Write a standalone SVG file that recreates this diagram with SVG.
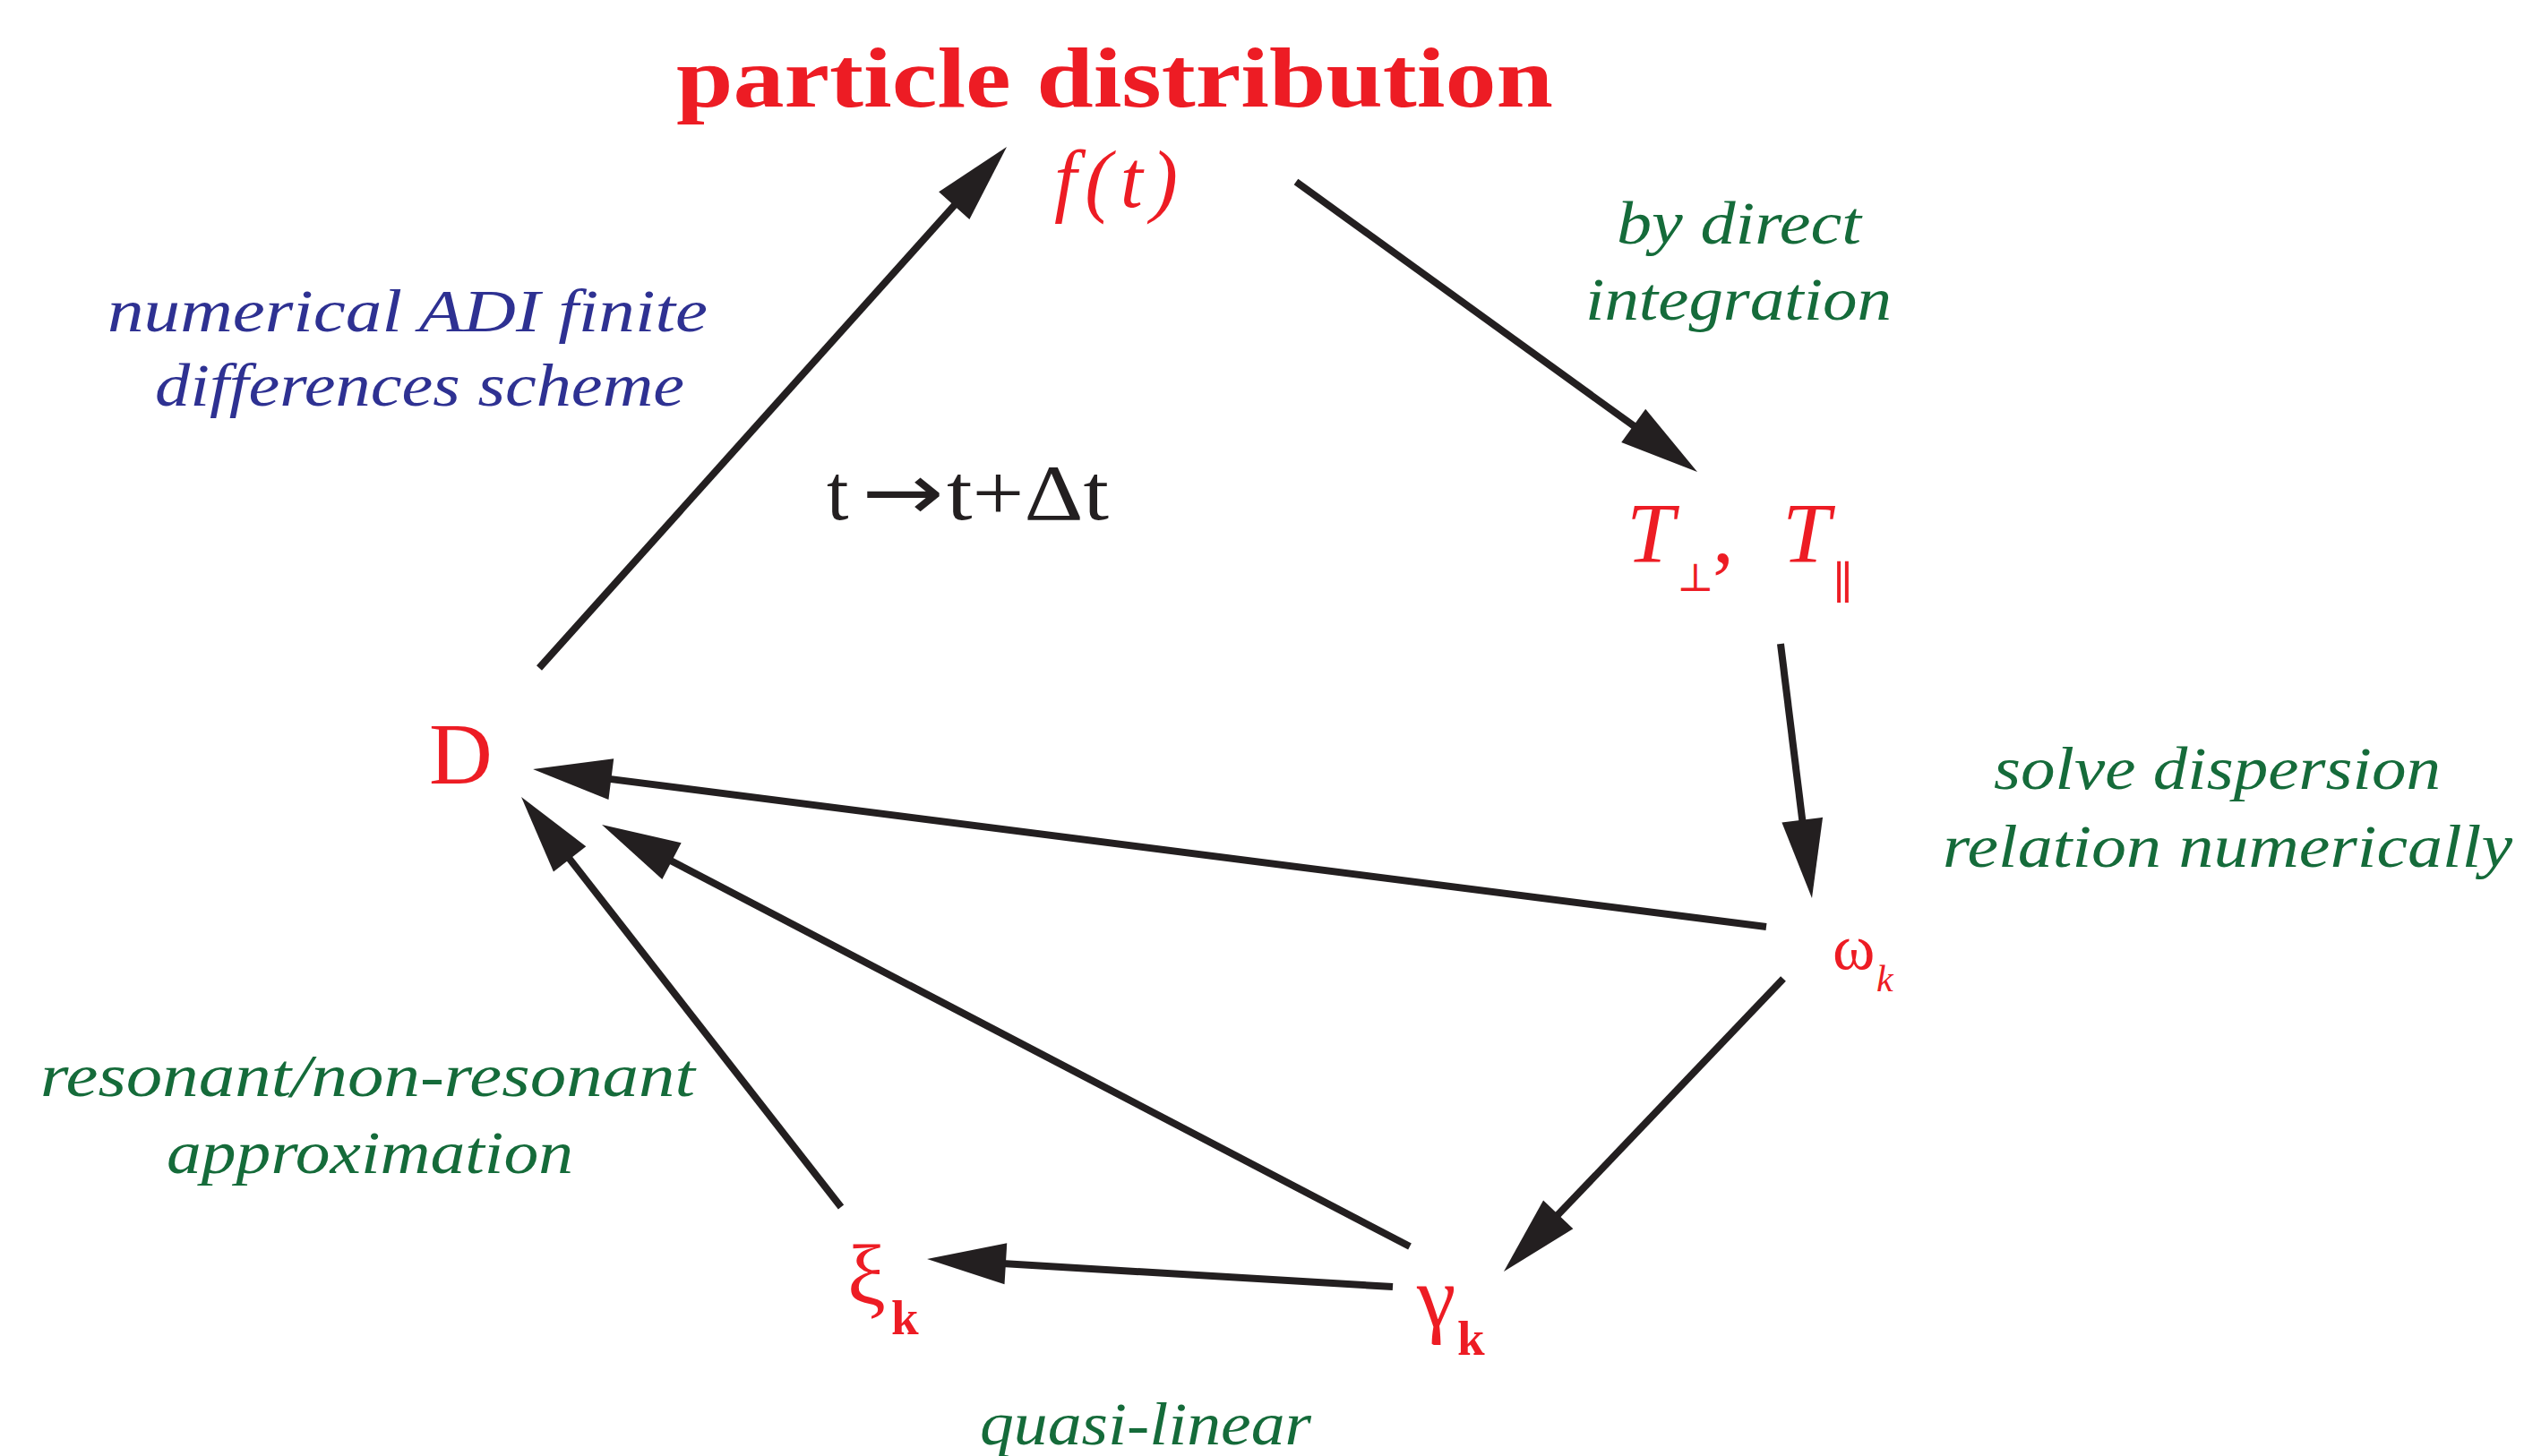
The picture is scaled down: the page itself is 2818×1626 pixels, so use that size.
<svg xmlns="http://www.w3.org/2000/svg" width="2818" height="1626" viewBox="0 0 2818 1626">
<style>
.node{fill:#ed1c24;font-family:"Liberation Serif","DejaVu Serif",serif}
.it{font-style:italic}
.green{fill:#156b3a;font-family:"Liberation Serif",serif;font-style:italic;font-size:68px}
.blue{fill:#2e3192;font-family:"Liberation Serif",serif;font-style:italic;font-size:68px}
.black{fill:#231f20;font-family:"Liberation Serif",serif}
.edge{stroke:#231f20;stroke-width:8;fill:none;marker-end:url(#ah)}
</style>
<defs>
<marker id="ah" markerUnits="userSpaceOnUse" orient="auto" markerWidth="100" markerHeight="60" viewBox="-2 -30 100 60" refX="8" refY="0">
<path d="M88,0 L0,-23 L0,23 Z" fill="#231f20"/>
</marker>
</defs>
<rect width="2818" height="1626" fill="#fff"/>

<g id="connectors">
<path class="edge" d="M602,746 L1070.6,223.6"/>
<path class="edge" d="M1447,203 L1830.2,480.1"/>
<path class="edge" d="M1988,719 L2013.2,923.6"/>
<path class="edge" d="M1972,1035 L674.4,869.1"/>
<path class="edge" d="M1574,1392 L742.9,958"/>
<path class="edge" d="M939,1348 L631.2,953.1"/>
<path class="edge" d="M1991,1093 L1734.2,1362.1"/>
<path class="edge" d="M1555,1437 L1114.9,1410.8"/>
</g>

<g id="node-f">
<text class="node" x="755" y="119" font-size="96" font-weight="bold" textLength="979" lengthAdjust="spacingAndGlyphs">particle distribution</text>
<text class="node it" x="1177" y="231" font-size="90" textLength="138">f(t)</text>
</g>

<g id="node-T">
<text class="node it" x="1816" y="628" font-size="96">T</text>
<text class="node" x="1872" y="660" font-size="44" font-family="DejaVu Sans">⊥</text>
<text class="node" x="1912" y="628" font-size="96">,</text>
<text class="node it" x="1990" y="628" font-size="96">T</text>
<text class="node" x="2046" y="668" font-size="50" font-family="DejaVu Sans">∥</text>
</g>

<g id="node-omega">
<text class="node" x="2046" y="1082" font-size="72">ω</text>
<text class="node it" x="2095" y="1107" font-size="42">k</text>
</g>

<g id="node-D">
<text class="node" x="479" y="875" font-size="98">D</text>
</g>

<g id="node-xi">
<text class="node" x="946" y="1456" font-size="96">ξ</text>
<text class="node" x="995" y="1490" font-size="55" font-weight="bold">k</text>
</g>

<g id="node-gamma">
<text class="node" x="1582" y="1481" font-size="98">γ</text>
<text class="node" x="1627" y="1513" font-size="55" font-weight="bold">k</text>
</g>

<g id="labels">
<text class="blue" x="120" y="370" textLength="670" lengthAdjust="spacingAndGlyphs">numerical ADI finite</text>
<text class="blue" x="173" y="453" textLength="591" lengthAdjust="spacingAndGlyphs">differences scheme</text>
<text class="green" x="1805" y="272" textLength="273" lengthAdjust="spacingAndGlyphs">by direct</text>
<text class="green" x="1770" y="357" textLength="342" lengthAdjust="spacingAndGlyphs">integration</text>
<text class="green" x="2226" y="881" textLength="499" lengthAdjust="spacingAndGlyphs">solve dispersion</text>
<text class="green" x="2169" y="968" textLength="636" lengthAdjust="spacingAndGlyphs">relation numerically</text>
<text class="green" x="45" y="1224" textLength="731" lengthAdjust="spacingAndGlyphs">resonant/non-resonant</text>
<text class="green" x="186" y="1310" textLength="454" lengthAdjust="spacingAndGlyphs">approximation</text>
<text class="green" x="1094" y="1613" textLength="370" lengthAdjust="spacingAndGlyphs">quasi-linear</text>
<text class="black" y="580" font-size="88"><tspan x="923">t</tspan><tspan x="962" font-family="DejaVu Sans" textLength="92" lengthAdjust="spacingAndGlyphs">→</tspan><tspan x="1057" textLength="181" lengthAdjust="spacingAndGlyphs">t+Δt</tspan></text>
</g>
</svg>
